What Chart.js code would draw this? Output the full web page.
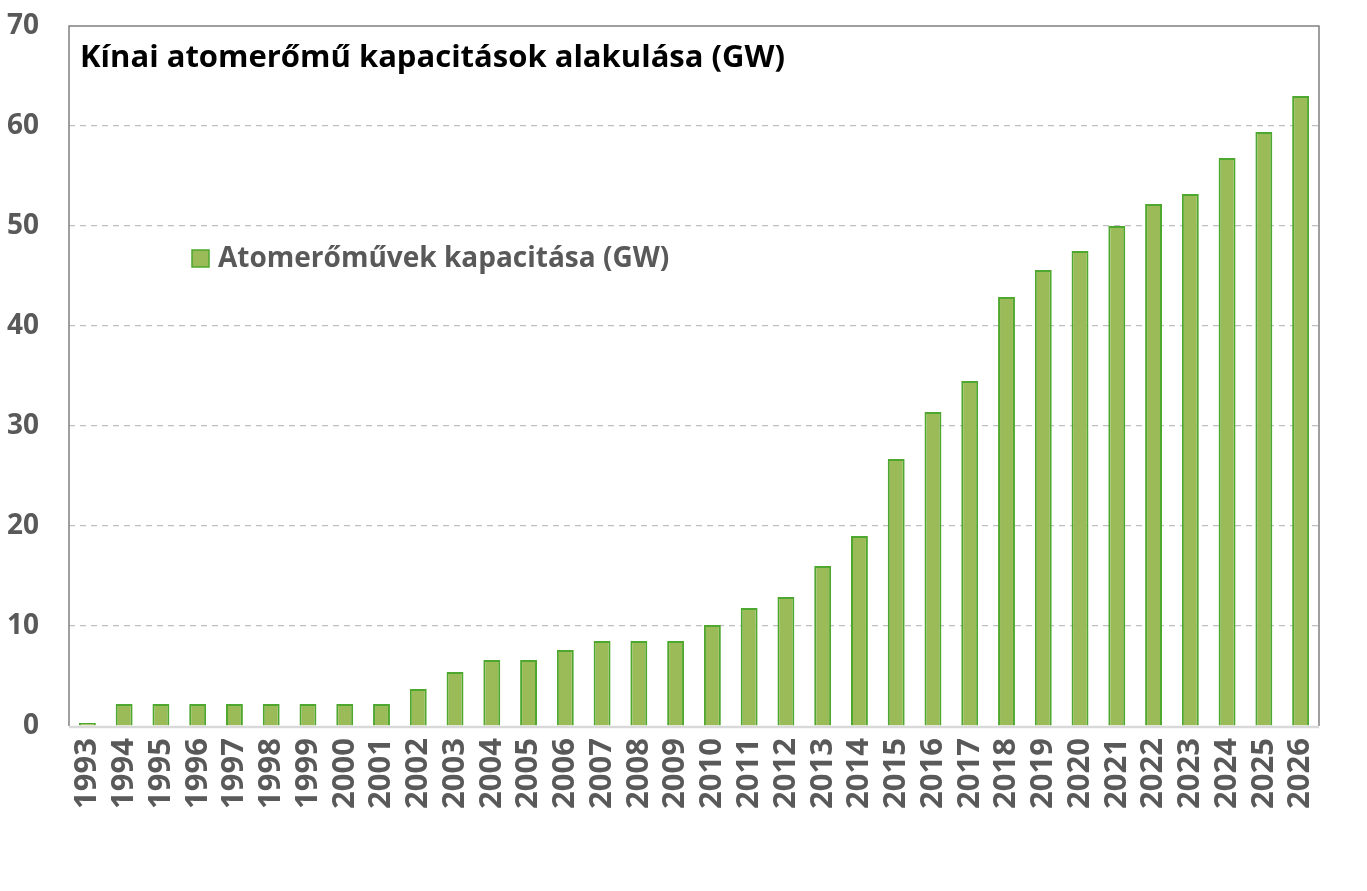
<!DOCTYPE html>
<html>
<head>
<meta charset="utf-8">
<script src="https://cdn.jsdelivr.net/npm/chart.js@4.4.1/dist/chart.umd.min.js"></script>
<style>
  html, body { margin: 0; padding: 0; background: #ffffff; }
  #wrap { width: 1367px; height: 891px; position: relative; }
</style>
</head>
<body>
<div id="wrap"><canvas id="nuclearChart" width="1367" height="891"></canvas></div>
<script>
// Chart data
const chartTitle = 'Kínai atomerőmű kapacitások alakulása (GW)';
const seriesLabel = 'Atomerőművek kapacitása (GW)';
const years = ['1993', '1994', '1995', '1996', '1997', '1998', '1999', '2000', '2001', '2002',
               '2003', '2004', '2005', '2006', '2007', '2008', '2009', '2010', '2011', '2012',
               '2013', '2014', '2015', '2016', '2017', '2018', '2019', '2020', '2021', '2022',
               '2023', '2024', '2025', '2026'];
const capacity = [0.3, 2.2, 2.2, 2.2, 2.2, 2.2, 2.2, 2.2, 2.2, 3.7,
                  5.4, 6.6, 6.6, 7.6, 8.5, 8.5, 8.5, 10.1, 11.8, 12.9,
                  16.0, 19.0, 26.7, 31.4, 34.5, 42.9, 45.6, 47.5, 50.0, 52.2,
                  53.2, 56.8, 59.4, 63.0];
const yTicks = [0, 10, 20, 30, 40, 50, 60, 70];

const barFill = '#9BBB59';
const barBorder = '#4EA72E';
const labelGray = '#595959';
const fontFamily = '"Open Sans", "DejaVu Sans", sans-serif';

// Frame, title and legend drawn inside the plot area
const overlayPlugin = {
    id: 'overlay',
    beforeDatasetsDraw(chart) {
        const { ctx, chartArea: a } = chart;
        ctx.save();
        // outer frame lines (top, left, right)
        ctx.strokeStyle = '#808080';
        ctx.lineWidth = 1.5;
        ctx.beginPath();
        ctx.moveTo(a.left, a.bottom);
        ctx.lineTo(a.left, a.top);
        ctx.lineTo(a.right, a.top);
        ctx.lineTo(a.right, a.bottom);
        ctx.stroke();
        ctx.restore();
    },
    afterDraw(chart) {
        const { ctx, chartArea: a } = chart;
        ctx.save();
        // bottom axis line
        ctx.strokeStyle = '#D9D9D9';
        ctx.lineWidth = 2.5;
        ctx.beginPath();
        ctx.moveTo(a.left, a.bottom + 1);
        ctx.lineTo(a.right, a.bottom + 1);
        ctx.stroke();

        // title
        ctx.fillStyle = '#000000';
        ctx.font = 'bold 31px ' + fontFamily;
        ctx.textBaseline = 'middle';
        ctx.textAlign = 'left';
        ctx.fillText(chartTitle, a.left + 11, 58);

        // legend
        ctx.fillStyle = barFill;
        ctx.strokeStyle = barBorder;
        ctx.lineWidth = 1.5;
        ctx.fillRect(192, 250, 17, 17);
        ctx.strokeRect(192, 250, 17, 17);
        ctx.fillStyle = labelGray;
        ctx.font = 'bold 28px ' + fontFamily;
        ctx.fillText(seriesLabel, 218, 259);
        ctx.restore();
    }
};

const ctx = document.getElementById('nuclearChart').getContext('2d');
new Chart(ctx, {
    type: 'bar',
    data: {
        labels: years,
        datasets: [{
            label: seriesLabel,
            data: capacity,
            backgroundColor: barFill,
            borderColor: barBorder,
            borderWidth: 2,
            barPercentage: 0.46,
            categoryPercentage: 1.0
        }]
    },
    options: {
        responsive: false,
        animation: false,
        layout: {
            padding: { top: 26, right: 48, bottom: 0, left: 0 }
        },
        plugins: {
            legend: { display: false },
            tooltip: { enabled: false }
        },
        scales: {
            y: {
                min: 0,
                max: 70,
                afterBuildTicks: (scale) => {
                    scale.ticks = yTicks.map(v => ({ value: v }));
                },
                afterFit: (scale) => {
                    scale.width = 69;
                    scale.paddingTop = 0;
                    scale.paddingBottom = 0;
                },
                grid: {
                    drawTicks: false,
                    color: (c) => (c.tick.value === 0 || c.tick.value === 70) ? 'rgba(0,0,0,0)' : '#BFBFBF',
                    lineWidth: 1.2
                },
                border: { display: false, dash: [6, 5] },
                ticks: {
                    padding: 30,
                    color: labelGray,
                    font: { family: fontFamily, size: 28, weight: 'bold' }
                }
            },
            x: {
                afterFit: (scale) => {
                    scale.height = 165;
                    scale.paddingLeft = 0;
                    scale.paddingRight = 0;
                    scale.paddingTop = 0;
                },
                border: { display: false },
                grid: { display: false, drawTicks: false },
                ticks: {
                    padding: 12,
                    minRotation: 90,
                    maxRotation: 90,
                    autoSkip: false,
                    color: labelGray,
                    font: { family: fontFamily, size: 31, weight: 'bold' }
                }
            }
        }
    },
    plugins: [overlayPlugin]
});
</script>
</body>
</html>
